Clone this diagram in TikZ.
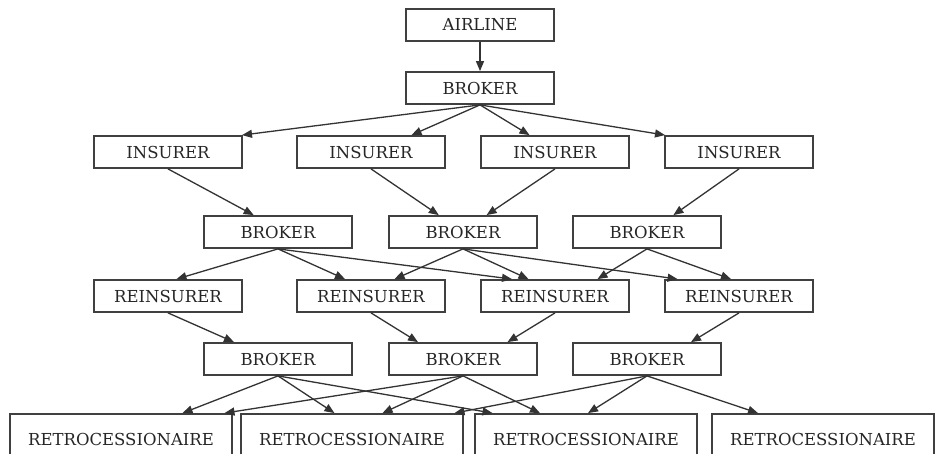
\documentclass[tikz,border=0pt]{standalone}
\usepackage{fontspec}
\setmainfont{DejaVu Serif}
\usepackage{tikz}
\usetikzlibrary{arrows.meta}

\begin{document}
\begin{tikzpicture}[x=1pt,y=-1pt,
  party/.style={draw=black!75, line width=1.8pt, fill=white, minimum width=148pt, minimum height=32pt, inner sep=0pt, font=\fontsize{16.5}{18}\selectfont, text=black!85},
  retro/.style={party, minimum width=222pt, minimum height=50pt},
  flow/.style={draw=black!80, line width=1.3pt, -{Triangle[length=10pt,width=8pt]}}]
% page, the bottom row runs off it
\fill[white] (0,0) rectangle (936,454);
\useasboundingbox (0,0) rectangle (936,454);
\clip (0,0) rectangle (936,454);

% top of the chain
\node[party] (airline) at (480,25) {AIRLINE};
\node[party] (broker) at (480,88) {BROKER};

% insurers and reinsurers share columns
\foreach \i/\x in {1/168,2/371,3/555,4/739} {
  \node[party] (ins\i) at (\x,152) {INSURER};
  \node[party] (rein\i) at (\x,296) {REINSURER};
}
% brokers in between
\foreach \i/\x in {1/278,2/463,3/647} {
  \node[party] (brA\i) at (\x,232) {BROKER};
  \node[party] (brB\i) at (\x,359) {BROKER};
}
% bottom row
\foreach \i/\x in {1/121,2/352,3/586,4/823}
  \node[retro] (retro\i) at (\x,439) {RETROCESSIONAIRE};

% placements
\draw[flow] (airline) -- (broker);
\foreach \a/\b/\s in {broker/ins1/74, broker/ins2/40.5, broker/ins3/-25.5, broker/ins4/-74,
    ins1/brA1/-24.3, ins2/brA2/-24.2, ins3/brA2/23.6, ins4/brA3/26.4,
    brA1/rein1/8.5, brA1/rein2/-26, brA1/rein3/-43,
    brA2/rein2/23.5, brA2/rein3/-26.5, brA2/rein4/-61.4,
    brA3/rein3/42.5, brA3/rein4/-8,
    rein1/brB1/-44, rein2/brB2/-45, rein3/brB2/44.5, rein4/brB3/44,
    brB1/retro1/61.5, brB1/retro2/-17.5, brB1/retro3/-93.5,
    brB2/retro1/103.5, brB2/retro2/30.5, brB2/retro3/-46,
    brB3/retro2/102.5, brB3/retro3/2, brB3/retro4/-65}
  \draw[flow] (\a.south) -- ([xshift=\s]\b.north);
\end{tikzpicture}
\end{document}
